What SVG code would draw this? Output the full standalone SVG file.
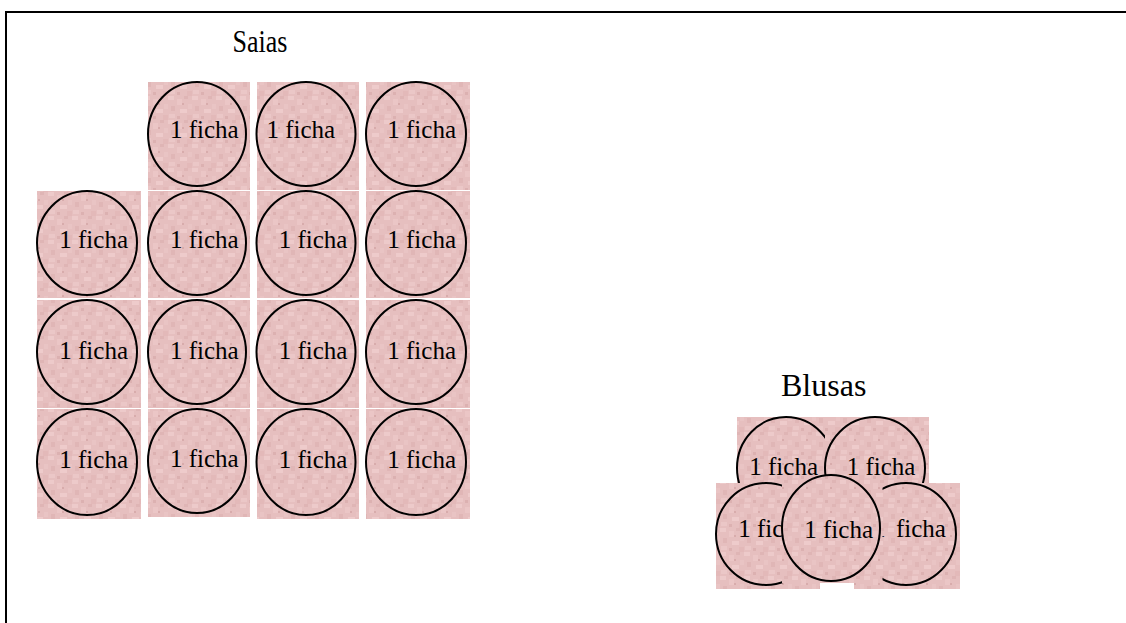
<svg xmlns="http://www.w3.org/2000/svg" width="1126" height="623" viewBox="0 0 1126 623">
<defs>
<pattern id="tex" x="0" y="0" width="24" height="24" patternUnits="userSpaceOnUse">
<rect width="24" height="24" fill="#e6bfbf"/>
<rect x="0" y="0" width="6" height="4" fill="#edcaca"/>
<rect x="9" y="3" width="5" height="6" fill="#ebc6c6"/>
<rect x="16" y="0" width="4" height="3" fill="#dfb5b5"/>
<rect x="3" y="10" width="4" height="5" fill="#e0b6b6"/>
<rect x="12" y="13" width="7" height="4" fill="#eecbcb"/>
<rect x="20" y="8" width="4" height="5" fill="#e9c4c4"/>
<rect x="1" y="18" width="6" height="4" fill="#ebc7c7"/>
<rect x="9" y="20" width="3" height="3" fill="#dcb1b1"/>
<rect x="19" y="19" width="5" height="5" fill="#e3b9b9"/>
<rect x="14" y="7" width="2" height="2" fill="#d8acac"/>
</pattern>
<style>
.tile{fill:url(#tex)}
.c{fill:none;stroke:#000;stroke-width:2}
.t{font-family:"Liberation Serif","Times New Roman",serif;font-size:25px;fill:#000}
.h{font-family:"Liberation Serif","Times New Roman",serif;fill:#000}
</style>
</defs>
<rect width="1126" height="623" fill="#fff"/>
<rect x="6" y="12" width="1140" height="630" fill="none" stroke="#000" stroke-width="2"/>
<text class="h" font-size="26" transform="translate(232.5,51.7) scale(1,1.2)">Saias</text>
<text class="h" font-size="32" x="781" y="395.7">Blusas</text>

<g id="s-r1c2"><rect class="tile" x="148" y="82" width="102" height="108"/><ellipse class="c" cx="197" cy="134" rx="49" ry="52"/><text class="t" x="170" y="138">1 ficha</text></g>
<g id="s-r1c3"><rect class="tile" x="257" y="82" width="102" height="108"/><ellipse class="c" cx="306" cy="134" rx="49.5" ry="52"/><text class="t" x="266.5" y="138">1 ficha</text></g>
<g id="s-r1c4"><rect class="tile" x="366" y="82" width="104" height="108"/><ellipse class="c" cx="416" cy="134" rx="50" ry="52"/><text class="t" x="387.3" y="138">1 ficha</text></g>

<g id="s-r2c1"><rect class="tile" x="37" y="191" width="104" height="107"/><ellipse class="c" cx="87" cy="243" rx="50" ry="52"/><text class="t" x="59.3" y="248">1 ficha</text></g>
<g id="s-r2c2"><rect class="tile" x="148" y="191" width="102" height="107"/><ellipse class="c" cx="197" cy="243" rx="49" ry="52"/><text class="t" x="170" y="248">1 ficha</text></g>
<g id="s-r2c3"><rect class="tile" x="257" y="191" width="102" height="107"/><ellipse class="c" cx="306" cy="243" rx="49.5" ry="52"/><text class="t" x="278.7" y="248">1 ficha</text></g>
<g id="s-r2c4"><rect class="tile" x="366" y="191" width="104" height="107"/><ellipse class="c" cx="416" cy="243" rx="50" ry="52"/><text class="t" x="387.3" y="248">1 ficha</text></g>

<g id="s-r3c1"><rect class="tile" x="37" y="300" width="104" height="108"/><ellipse class="c" cx="87" cy="352" rx="50" ry="52"/><text class="t" x="59.3" y="359">1 ficha</text></g>
<g id="s-r3c2"><rect class="tile" x="148" y="300" width="102" height="108"/><ellipse class="c" cx="197" cy="352" rx="49" ry="52"/><text class="t" x="170" y="359">1 ficha</text></g>
<g id="s-r3c3"><rect class="tile" x="257" y="300" width="102" height="108"/><ellipse class="c" cx="306" cy="352" rx="49.5" ry="52"/><text class="t" x="278.7" y="359">1 ficha</text></g>
<g id="s-r3c4"><rect class="tile" x="366" y="300" width="104" height="108"/><ellipse class="c" cx="416" cy="352" rx="50" ry="52"/><text class="t" x="387.3" y="359">1 ficha</text></g>

<g id="s-r4c1"><rect class="tile" x="37" y="409" width="104" height="110"/><ellipse class="c" cx="87" cy="462" rx="50" ry="53"/><text class="t" x="59.3" y="468">1 ficha</text></g>
<g id="s-r4c2"><rect class="tile" x="148" y="409" width="102" height="108"/><ellipse class="c" cx="197" cy="461" rx="49" ry="52"/><text class="t" x="170" y="466.5">1 ficha</text></g>
<g id="s-r4c3"><rect class="tile" x="257" y="409" width="102" height="110"/><ellipse class="c" cx="306" cy="462" rx="49.5" ry="53"/><text class="t" x="278.7" y="468">1 ficha</text></g>
<g id="s-r4c4"><rect class="tile" x="366" y="409" width="104" height="110"/><ellipse class="c" cx="416" cy="462" rx="50" ry="53"/><text class="t" x="387.3" y="468">1 ficha</text></g>

<g id="b-top-left"><rect class="tile" x="737" y="417" width="96" height="66"/><ellipse class="c" cx="786" cy="468" rx="49" ry="51"/><text class="t" x="749.3" y="475">1 ficha</text></g>
<g id="b-top-right"><rect class="tile" x="825" y="417" width="104" height="66"/><ellipse class="c" cx="875" cy="468" rx="50" ry="51"/><text class="t" x="846.7" y="475">1 ficha</text></g>
<g id="b-bottom-left"><rect class="tile" x="716" y="483" width="104" height="106"/><ellipse class="c" cx="766" cy="534" rx="50" ry="51"/><text class="t" x="738.3" y="536.7">1 ficha</text></g>
<g id="b-bottom-right"><rect class="tile" x="854" y="483" width="106" height="106"/><ellipse class="c" cx="906" cy="534" rx="50" ry="51"/><text class="t" x="873" y="536.7">1 <tspan x="896">ficha</tspan></text></g>
<g id="b-center"><rect class="tile" x="782" y="475" width="100.5" height="108"/><ellipse class="c" cx="831" cy="528" rx="49" ry="53"/><text class="t" x="804.3" y="538.3">1 ficha</text></g>
</svg>
